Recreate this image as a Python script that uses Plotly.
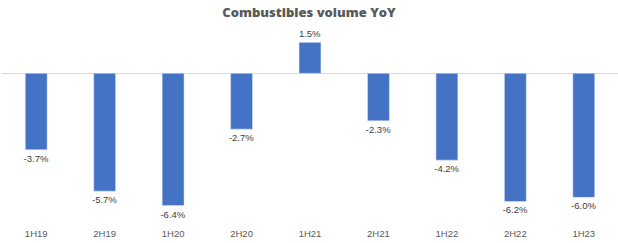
import plotly.graph_objects as go

categories = ["1H19", "2H19", "1H20", "2H20", "1H21", "2H21", "1H22", "2H22", "1H23"]
values = [-3.7, -5.7, -6.4, -2.7, 1.5, -2.3, -4.2, -6.2, -6.0]
labels = [f"{v:.1f}%" for v in values]

fig = go.Figure(go.Bar(
    x=categories, y=values, text=labels, textposition="outside",
    marker_color="#4472C4", width=0.32, cliponaxis=False, constraintext="none",
    textfont=dict(family="Liberation Sans, Arial", size=9.5, color="#404040"),
))

fig.update_layout(
    width=618, height=243,
    margin=dict(l=2, r=0, t=32, b=25),
    paper_bgcolor="white", plot_bgcolor="white",
    title=dict(text="Combustibles volume YoY", x=0.5, xanchor="center", y=0.95, yanchor="middle",
               font=dict(family="Open Sans, Arial", size=13, weight=800, color="#595959")),
    showlegend=False,
    xaxis=dict(showgrid=False, showline=False, ticks="", ticklabelstandoff=8,
               tickfont=dict(family="Liberation Sans, Arial", size=9.5, color="#595959")),
)
fig.update_yaxes(range=[-7, 2], visible=True, showticklabels=False, showgrid=False, zeroline=True,
                 zerolinecolor="#d9d9d9", zerolinewidth=1)
fig.write_html("out.html")
